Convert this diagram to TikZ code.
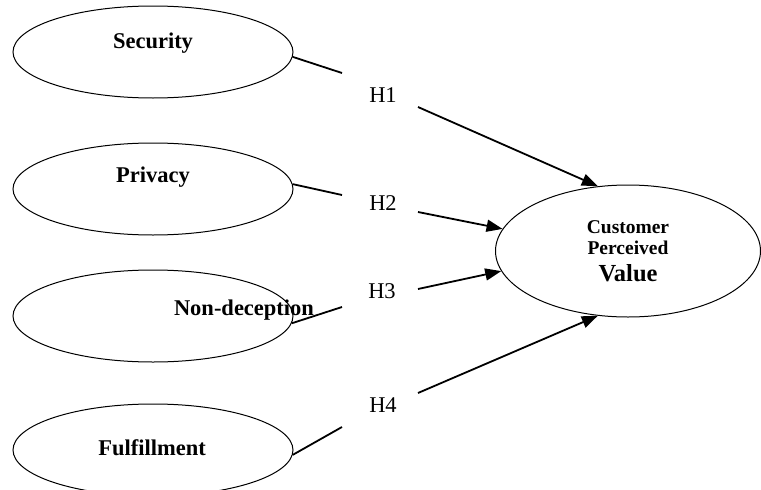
\documentclass[tikz,border=0pt]{standalone}
\usepackage{fontspec}
\setmainfont{Liberation Serif}
\usetikzlibrary{shapes.geometric,arrows.meta}

\begin{document}
\begin{tikzpicture}[x=1pt,y=-1pt,
    construct/.style={ellipse, draw, line width=1pt, minimum width=280pt, minimum height=92pt, inner sep=0pt},
    clabel/.style={font=\fontsize{22.5}{24}\selectfont\bfseries, inner sep=0pt},
    hyp/.style={font=\fontsize{22.5}{24}\selectfont, inner sep=0pt},
    link/.style={line width=1.8pt},
    effect/.style={line width=1.8pt, -{Triangle[length=16pt,width=12pt]}}]
            \clip (0,0) rectangle (761,490);
            % Antecedents
            \node[construct] (security) at (153,52) {};
            \node[clabel] (securitytxt) at (153,43) {Security};
            \node[construct] (privacy) at (153,189) {};
            \node[clabel] (privacytxt) at (153,177) {Privacy};
            \node[construct] (nondeception) at (153,316) {};
            \node[clabel] (nondeceptiontxt) at (244,310) {Non-deception};
            \node[construct] (fulfillment) at (153,450) {};
            \node[clabel] (fulfillmenttxt) at (152,448) {Fulfillment};
            % Outcome
            \node[ellipse, draw, line width=1pt, minimum width=265pt, minimum height=132pt, inner sep=0pt,
                  align=center, font=\fontsize{19.5}{21}\selectfont\bfseries] (cpv) at (628,251)
                  {Customer\\Perceived\\[6pt]{\fontsize{24.5}{21}\selectfont Value}};
            % Hypotheses
            \node[hyp] (h1) at (383,95) {H1};
            \node[hyp] (h2) at (383,203) {H2};
            \node[hyp] (h3) at (382,291) {H3};
            \node[hyp] (h4) at (383,405) {H4};

            \coordinate (h1in) at (342,73);
            \coordinate (h2in) at (342,195);
            \coordinate (h3in) at (342,307);
            \coordinate (h4in) at (342,427);
            \coordinate (h1out) at (418,107);
            \coordinate (h2out) at (418,212);
            \coordinate (h3out) at (418,289);
            \coordinate (h4out) at (418,393);

            \draw[link] (security.-2.5) -- (h1in);
            \draw[link] (privacy.2.5) -- (h2in);
            \draw[link] (nondeception.-3) -- (h3in);
            \draw[link] (fulfillment.-2) -- (h4in);

            \draw[effect] (h1out) -- (cpv.115);
            \draw[effect] (h2out) -- (cpv.170);
            \draw[effect] (h3out) -- (cpv.189);
            \draw[effect] (h4out) -- (cpv.245);
        \end{tikzpicture}
\end{document}
